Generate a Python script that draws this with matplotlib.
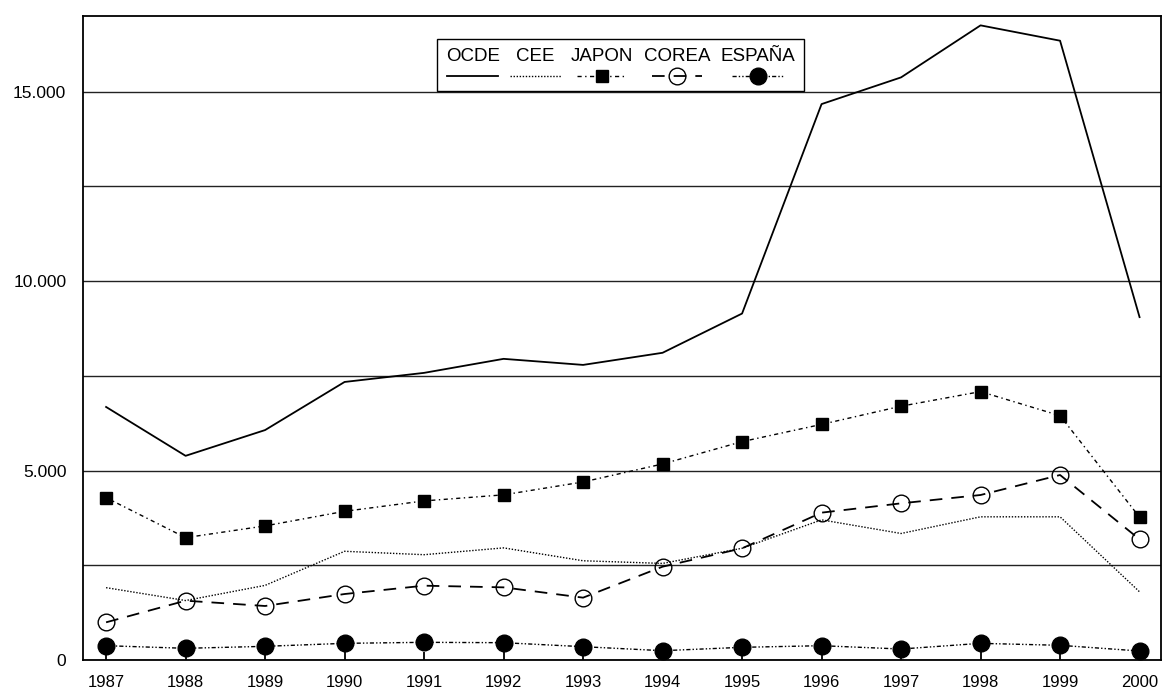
import numpy as np
import matplotlib
matplotlib.use('Agg')
import matplotlib.pyplot as plt
from matplotlib.offsetbox import VPacker
from matplotlib.ticker import FuncFormatter

plt.rcParams['font.family'] = ['Liberation Sans', 'DejaVu Sans']

years = list(range(1987, 2001))
ocde = [6680, 5390, 6070, 7340, 7580, 7950, 7790, 8110, 9146, 14675, 15380, 16753, 16348, 9051]
cee = [1910, 1570, 1970, 2870, 2780, 2960, 2620, 2550, 2950, 3700, 3340, 3780, 3780, 1800]
japon = [4285, 3230, 3540, 3925, 4200, 4360, 4700, 5175, 5765, 6220, 6700, 7085, 6450, 3770]
corea = [995, 1566, 1426, 1742, 1962, 1918, 1646, 2464, 2948, 3890, 4136, 4356, 4884, 3186]
espana = [378, 309, 361, 440, 467, 457, 352, 246, 335, 378, 290, 440, 388, 238]

fig = plt.figure(figsize=(11.63, 6.93), dpi=100)
ax = fig.add_axes([0.0714, 0.0476, 0.9269, 0.9293])

ax.plot(years, ocde, color='black', lw=1.3, label='OCDE')
ax.plot(years, cee, color='black', lw=1.0, ls=(0, (1, 1.2)), label='CEE')
ax.plot(years, japon, color='black', lw=1.0, ls=(0, (3, 2.5, 1, 2.5)),
        marker='s', ms=8, mfc='black', mec='black', label='JAPON')
ax.plot(years, corea, color='black', lw=1.3, ls=(0, (7, 5)),
        marker='o', ms=12, mfc='none', mec='black', mew=1.0, label='COREA')
ax.plot(years, espana, color='black', lw=1.0, ls=(0, (3, 1.5, 1, 1.5, 1, 1.5)),
        marker='o', ms=12, mfc='black', mec='black', label='ESPAÑA')

ax.set_xlim(1986.71, 2000.27)
ax.set_ylim(0, 17000)
ax.set_xticks(years)
ax.set_yticks(np.arange(0, 15001, 2500))
ax.yaxis.set_major_formatter(FuncFormatter(
    lambda v, p: ('{:,.0f}'.format(v).replace(',', '.') if v % 5000 == 0 else '')))
ax.tick_params(axis='x', direction='in', length=6, width=1.3, labelsize=12, pad=11)
ax.tick_params(axis='y', length=0, labelsize=12.5, pad=12)
ax.grid(axis='y', color='#222222', lw=1.0)
ax.set_axisbelow(True)
for s in ax.spines.values():
    s.set_linewidth(1.3)
    s.set_color('black')

leg = ax.legend(loc='center', bbox_to_anchor=(0.4985, 0.924), ncol=5, fontsize=13.5,
                frameon=True, fancybox=False, edgecolor='black', framealpha=1,
                handlelength=2.7, columnspacing=0.55, numpoints=1, borderpad=0.45)
leg.get_frame().set_linewidth(1.0)
# put labels above their handles
for col in leg._legend_handle_box.get_children():
    for item in col.get_children():
        h, t = item.get_children()
        item._children = [t, h]
        item.__class__ = VPacker
        item.align = 'center'
        item.sep = 3

plt.savefig('out.png', dpi=100)
